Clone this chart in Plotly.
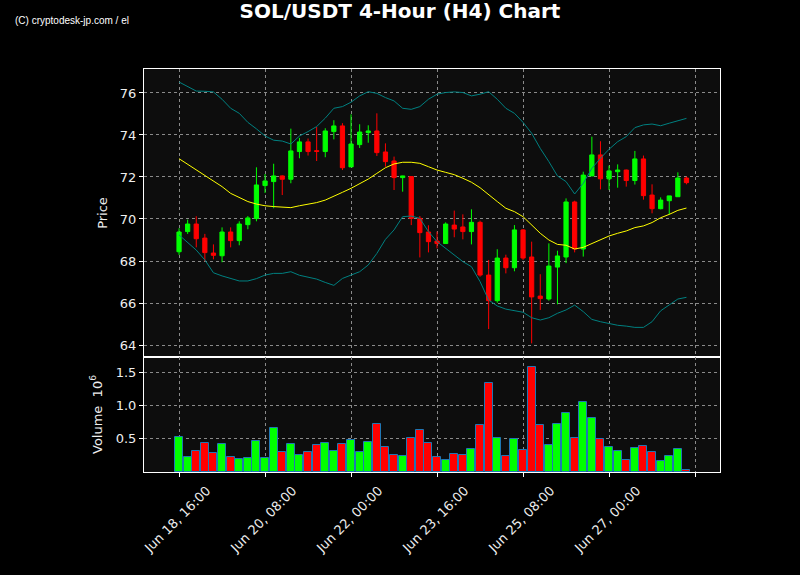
import datetime as dt
import plotly.graph_objects as go
from plotly.subplots import make_subplots

start = dt.datetime(2024, 6, 18, 16, 0)
n = 60
times = [start + dt.timedelta(hours=4 * i) for i in range(n)]

opens = [68.44, 69.40, 69.76, 69.09, 68.38, 68.25, 69.38, 68.97, 69.73, 70.02,
         71.59, 71.78, 72.05, 71.89, 73.21, 73.67, 73.25, 73.21, 74.16, 74.43,
         72.48, 73.54, 74.11, 74.19, 73.19, 72.76, 71.97, 72.02, 70.03, 69.38,
         68.95, 68.83, 69.71, 69.62, 69.40, 69.84, 67.33, 66.11, 68.14, 67.68,
         69.48, 68.19, 66.33, 66.19, 67.71, 68.19, 70.81, 68.57, 72.05, 73.05,
         71.91, 72.25, 72.33, 71.83, 72.86, 71.14, 70.49, 70.87, 71.06, 71.95]
highs = [69.56, 69.97, 70.13, 69.29, 68.79, 69.60, 69.60, 69.89, 70.14, 72.46,
         72.14, 72.63, 72.08, 74.30, 73.86, 73.83, 74.38, 74.32, 74.70, 74.56,
         74.98, 74.51, 74.46, 75.03, 73.60, 72.97, 72.06, 72.03, 70.14, 69.70,
         69.40, 69.84, 70.40, 70.22, 70.46, 69.92, 68.05, 68.56, 68.30, 69.71,
         69.52, 68.92, 67.37, 68.84, 68.49, 70.98, 70.87, 72.25, 73.92, 73.70,
         72.54, 72.60, 72.35, 73.24, 73.02, 71.65, 71.03, 71.10, 72.22, 72.02]
lows = [68.29, 69.29, 68.65, 67.99, 68.08, 67.94, 68.65, 68.75, 69.51, 69.89,
        71.24, 70.51, 71.14, 71.70, 72.89, 73.02, 72.76, 72.94, 73.79, 72.33,
        72.48, 73.38, 73.63, 73.00, 72.49, 71.38, 71.30, 69.71, 68.17, 68.41,
        68.60, 68.83, 69.13, 69.03, 68.79, 67.25, 64.76, 66.01, 67.41, 67.51,
        68.05, 64.08, 65.67, 66.11, 65.94, 67.90, 68.41, 68.21, 72.05, 71.41,
        71.38, 71.49, 71.54, 71.64, 70.92, 70.27, 70.46, 70.21, 71.06, 71.65]
closes = [69.38, 69.76, 69.06, 68.40, 68.27, 69.38, 68.97, 69.76, 70.05, 71.62,
          71.81, 72.05, 71.89, 73.24, 73.67, 73.21, 73.22, 74.19, 74.43, 72.44,
          73.57, 74.14, 74.19, 73.16, 72.73, 71.97, 72.05, 70.03, 69.35, 68.92,
          68.83, 69.76, 69.52, 69.40, 69.84, 67.33, 66.11, 68.14, 67.68, 69.48,
          68.14, 66.29, 66.21, 67.76, 68.24, 70.81, 68.57, 72.09, 73.05, 71.91,
          72.29, 72.33, 71.83, 72.86, 71.11, 70.49, 70.90, 71.10, 71.95, 71.73]

ma_mid = [72.87, 72.60, 72.33, 72.06, 71.79, 71.54, 71.22, 71.03, 70.83, 70.71,
          70.63, 70.59, 70.57, 70.54, 70.63, 70.70, 70.78, 70.90, 71.10, 71.27,
          71.46, 71.68, 71.90, 72.17, 72.44, 72.62, 72.70, 72.70, 72.65, 72.49,
          72.33, 72.22, 72.11, 71.94, 71.75, 71.49, 71.14, 70.83, 70.51, 70.35,
          70.11, 69.71, 69.32, 69.00, 68.79, 68.75, 68.57, 68.65, 68.84, 69.00,
          69.19, 69.32, 69.43, 69.59, 69.67, 69.83, 70.06, 70.22, 70.41, 70.52]
bb_upper = [76.52, 76.30, 76.09, 76.08, 76.05, 75.70, 75.27, 75.03, 74.60, 74.29,
            73.95, 73.75, 73.71, 73.57, 73.95, 74.16, 74.40, 74.80, 75.27, 75.35,
            75.56, 75.86, 76.06, 75.98, 75.78, 75.62, 75.27, 75.22, 75.35, 75.70,
            75.94, 76.02, 76.05, 76.02, 75.86, 75.94, 76.06, 75.70, 75.27, 75.03,
            74.60, 74.08, 73.36, 72.73, 72.05, 71.78, 71.19, 71.70, 72.41, 72.89,
            73.32, 73.68, 73.92, 74.35, 74.48, 74.52, 74.44, 74.56, 74.67, 74.79]
bb_lower = [69.24, 68.87, 68.52, 68.05, 67.44, 67.29, 67.16, 67.05, 67.05, 67.16,
            67.33, 67.41, 67.41, 67.49, 67.32, 67.22, 67.14, 66.98, 66.84, 67.17,
            67.33, 67.49, 67.81, 68.36, 69.03, 69.48, 70.11, 70.14, 70.03, 69.40,
            68.92, 68.59, 68.29, 67.97, 67.73, 67.02, 66.14, 65.86, 65.71, 65.63,
            65.56, 65.30, 65.19, 65.30, 65.51, 65.67, 65.90, 65.59, 65.22, 65.11,
            65.03, 64.94, 64.90, 64.84, 64.84, 65.11, 65.63, 65.90, 66.19, 66.27]
volumes = [0.529, 0.231, 0.321, 0.440, 0.290, 0.425, 0.231, 0.201, 0.216, 0.470,
           0.216, 0.664, 0.306, 0.425, 0.261, 0.306, 0.410, 0.440, 0.321, 0.425,
           0.485, 0.306, 0.455, 0.723, 0.380, 0.261, 0.246, 0.515, 0.634, 0.440,
           0.231, 0.186, 0.276, 0.261, 0.351, 0.709, 1.335, 0.515, 0.246, 0.500,
           0.336, 1.574, 0.709, 0.410, 0.724, 0.888, 0.515, 1.052, 0.813, 0.500,
           0.380, 0.321, 0.186, 0.366, 0.395, 0.306, 0.171, 0.246, 0.351, 0.033]

tick_times = [start + dt.timedelta(hours=40 * k) for k in range(7)]
tick_labels = ["Jun 18, 16:00", "Jun 20, 08:00", "Jun 22, 00:00", "Jun 23, 16:00",
               "Jun 25, 08:00", "Jun 27, 00:00"]

UP = "#00ff00"
DOWN = "#ff0000"
vol_colors = [UP if c >= o else DOWN for o, c in zip(opens, closes)]

fig = make_subplots(rows=2, cols=1, shared_xaxes=True, vertical_spacing=0,
                    row_heights=[288, 115])

fig.add_trace(go.Scatter(x=times, y=bb_upper, mode="lines",
                         line=dict(color="#008080", width=1), showlegend=False,
                         hoverinfo="skip"), row=1, col=1)
fig.add_trace(go.Scatter(x=times, y=bb_lower, mode="lines",
                         line=dict(color="#008080", width=1), showlegend=False,
                         hoverinfo="skip"), row=1, col=1)
fig.add_trace(go.Scatter(x=times, y=ma_mid, mode="lines",
                         line=dict(color="#ffff00", width=1), showlegend=False,
                         hoverinfo="skip"), row=1, col=1)
fig.add_trace(go.Candlestick(x=times, open=opens, high=highs, low=lows, close=closes,
                             increasing=dict(line=dict(color=UP, width=1), fillcolor=UP),
                             decreasing=dict(line=dict(color=DOWN, width=1), fillcolor=DOWN),
                             whiskerwidth=0, showlegend=False), row=1, col=1)

bar_w = 0.93 * 4 * 3600 * 1000
fig.add_trace(go.Bar(x=times, y=volumes, width=bar_w,
                     marker=dict(color=vol_colors, line=dict(color="#1f77b4", width=1)),
                     showlegend=False), row=2, col=1)

x0 = start - dt.timedelta(hours=16.3)
x1 = start + dt.timedelta(hours=251.6)

font_main = dict(family="DejaVu Sans", size=13, color="#eeeeee")
grid = dict(showgrid=True, gridcolor="#8a8a8a", griddash="dot", gridwidth=1)
axline = dict(showline=True, linecolor="white", linewidth=1, mirror=True,
              ticks="outside", ticklen=4, tickcolor="white", zeroline=False)

fig.update_xaxes(range=[x0, x1], tickvals=tick_times, showticklabels=False,
                 rangeslider=dict(visible=False), **grid, **axline)
fig.update_xaxes(ticks="", row=1, col=1)

fig.update_yaxes(range=[63.43, 77.14], tickvals=[64, 66, 68, 70, 72, 74, 76],
                 tickfont=font_main, title=dict(text="Price", font=font_main, standoff=9),
                 **grid, **axline, row=1, col=1)
fig.update_yaxes(range=[0, 1.728], tickvals=[0.5, 1.0, 1.5], ticktext=["0.5", "1.0", "1.5"],
                 tickfont=font_main,
                 title=dict(text="Volume  10<sup>6</sup>", font=font_main, standoff=10),
                 **grid, **axline, row=2, col=1)

annotations = [dict(text="(C) cryptodesk-jp.com / el", xref="paper", yref="paper",
                    x=(13 - 144) / 576, y=1 + (69 - 21) / 403, xanchor="left",
                    yanchor="middle", showarrow=False,
                    font=dict(family="Liberation Sans", size=10, color="white"))]
for t, lab in zip(tick_times, tick_labels):
    annotations.append(dict(text=lab, x=t, xref="x2", y=(472 - 519) / 403, yref="paper",
                            xanchor="center", yanchor="middle", xshift=-2,
                            textangle=-45, showarrow=False, font=font_main))

fig.update_layout(
    width=800, height=575,
    margin=dict(l=144, r=80, t=69, b=103),
    paper_bgcolor="#000000",
    plot_bgcolor="#0d0d0d",
    bargap=0,
    title=dict(text="<b>SOL/USDT 4-Hour (H4) Chart</b>", x=0.5, xref="container",
               y=1 - 11 / 575, yref="container", yanchor="middle", xanchor="center",
               font=dict(family="DejaVu Sans", size=20, color="white")),
    annotations=annotations,
)

fig.write_html("out.html", config={"displayModeBar": False},
               post_script="document.body.style.margin='0';")
